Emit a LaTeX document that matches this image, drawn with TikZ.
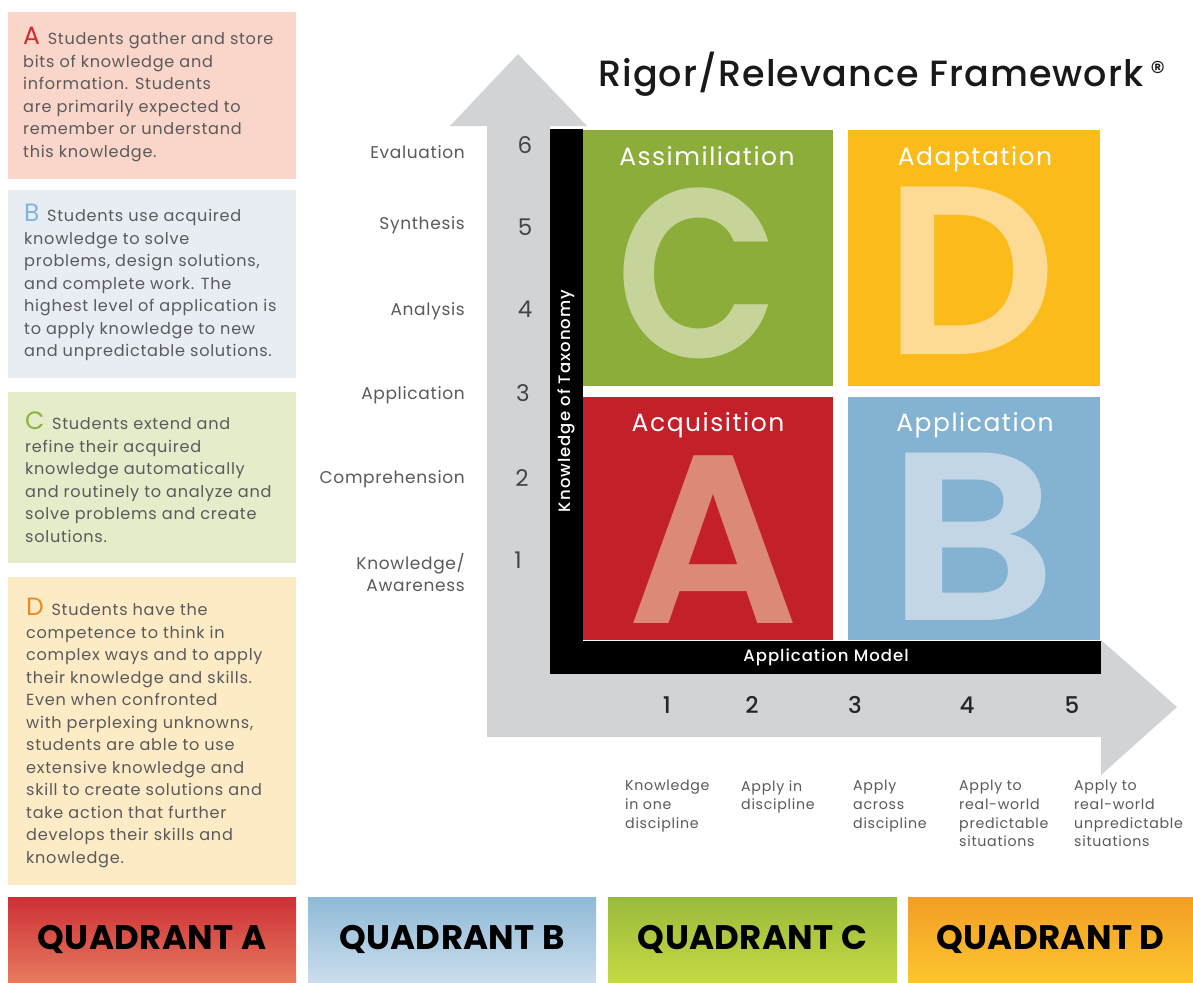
\documentclass[tikz,border=0pt]{standalone}
\usepackage{fontspec}
\setmainfont{Poppins}
\IfFontExistsTF{Poppins Medium}{\newfontfamily\popmed{Poppins Medium}}{\newfontfamily\popmed{Poppins}}
\IfFontExistsTF{Poppins SemiBold}{\newfontfamily\popsemi{Poppins SemiBold}}{\newfontfamily\popsemi{Poppins}[FakeBold=1.5]}
\definecolor{boxA}{HTML}{FAD5C9}
\definecolor{boxB}{HTML}{E7EDF2}
\definecolor{boxC}{HTML}{E4ECCA}
\definecolor{boxD}{HTML}{FDEBC6}
\definecolor{letA}{HTML}{D42A30}
\definecolor{letB}{HTML}{7FB6D9}
\definecolor{letC}{HTML}{8CB43C}
\definecolor{letD}{HTML}{EF8A22}
\definecolor{txtgray}{HTML}{5A5A5C}
\definecolor{numgray}{HTML}{444446}
\definecolor{arrowgray}{HTML}{D1D3D4}
\definecolor{qgreen}{HTML}{8CAD3A}
\definecolor{qyellow}{HTML}{FBBC1B}
\definecolor{qred}{HTML}{C4202A}
\definecolor{qblue}{HTML}{84B2D3}
\definecolor{lgreen}{HTML}{C6D49A}
\definecolor{lyellow}{HTML}{FDDB94}
\definecolor{lred}{HTML}{DC8A78}
\definecolor{lblue}{HTML}{C2D6E6}
\definecolor{barAtop}{HTML}{CC2F35}
\definecolor{barAbot}{HTML}{E87A5F}
\definecolor{barBtop}{HTML}{8FBAD7}
\definecolor{barBbot}{HTML}{CADDEC}
\definecolor{barCtop}{HTML}{9ABA3C}
\definecolor{barCbot}{HTML}{C4DA42}
\definecolor{barDtop}{HTML}{F29E26}
\definecolor{barDbot}{HTML}{FDC52D}
\begin{document}
\begin{tikzpicture}[x=1pt,y=-1pt,
  panel/.style={anchor=north west, inner sep=0, outer sep=0, draw=none},
  desc/.style={anchor=north west, inner sep=0, align=left, text=txtgray, font=\fontsize{16.1}{22.5}\selectfont\addfontfeature{LetterSpace=4.5}},
  axlab/.style={anchor=base east, inner sep=0, text=txtgray, font=\fontsize{17}{22}\selectfont\addfontfeature{LetterSpace=4}},
  num/.style={anchor=base, inner sep=0, text=numgray, font=\fontsize{23}{23}\selectfont},
  hnum/.style={anchor=base, inner sep=0, text=black!85, font=\popmed\fontsize{23}{23}\selectfont},
  qtitle/.style={anchor=base, inner sep=0, text=white, font=\fontsize{25}{25}\selectfont\addfontfeature{LetterSpace=6}},
  bigletter/.style={anchor=base, inner sep=0, text height=170pt, text depth=0pt, font=\popsemi\fontsize{240}{240}\selectfont},
  applab/.style={anchor=north west, inner sep=0, align=left, text=txtgray, font=\fontsize{14.2}{18.7}\selectfont\addfontfeature{LetterSpace=5}},
  barlab/.style={text=white, inner sep=0, font=\popmed\fontsize{16.5}{17}\selectfont\addfontfeature{LetterSpace=6}},
  qbar/.style={anchor=north west, inner sep=0, outer sep=0, minimum width=288, minimum height=85},
  qbartext/.style={font=\fontsize{34}{34}\selectfont\bfseries\addfontfeature{LetterSpace=1}, text=black}
]
\useasboundingbox (0,0) rectangle (1193,982);
\fill[white] (0,0) rectangle (1193,982);

% ---------- left description panels ----------
\node[panel, fill=boxA, minimum width=288, minimum height=167] (pA) at (8,12) {};
\node[panel, fill=boxB, minimum width=288, minimum height=188] (pB) at (8,190) {};
\node[panel, fill=boxC, minimum width=288, minimum height=171] (pC) at (8,392) {};
\node[panel, fill=boxD, minimum width=288, minimum height=308] (pD) at (8,577) {};

\node[desc] (tA) at (23,27) {{\fontsize{25}{22.5}\selectfont\color{letA}A}\, Students gather and store\\bits of knowledge and\\information. Students\\are primarily expected to\\remember or understand\\this knowledge.};
\node[desc] (tB) at (24,204) {{\fontsize{25}{22.5}\selectfont\color{letB}B}\, Students use acquired\\knowledge to solve\\problems, design solutions,\\and complete work. The\\highest level of application is\\to apply knowledge to new\\and unpredictable solutions.};
\node[desc] (tC) at (25,412) {{\fontsize{25}{22.5}\selectfont\color{letC}C}\, Students extend and\\refine their acquired\\knowledge automatically\\and routinely to analyze and\\solve problems and create\\solutions.};
\node[desc] (tD) at (26,598) {{\fontsize{25}{22.5}\selectfont\color{letD}D}\, Students have the\\competence to think in\\complex ways and to apply\\their knowledge and skills.\\Even when confronted\\with perplexing unknowns,\\students are able to use\\extensive knowledge and\\skill to create solutions and\\take action that further\\develops their skills and\\knowledge.};

% ---------- gray L arrow ----------
\fill[arrowgray] (487,737) -- (1101,737) -- (1101,775) -- (1177,707) -- (1101,640) -- (1101,674)
  -- (550,674) -- (550,126) -- (587,126) -- (518,54) -- (450,126) -- (487,126) -- cycle;

% ---------- quadrants ----------
\node[panel, fill=qgreen, minimum width=250, minimum height=256] (qC) at (583,130) {};
\node[panel, fill=qyellow, minimum width=252, minimum height=256] (qD) at (848,130) {};
\node[panel, fill=qred, minimum width=250, minimum height=243] (qA) at (583,397) {};
\node[panel, fill=qblue, minimum width=252, minimum height=243] (qB) at (848,397) {};

\node[bigletter, text=lgreen, xscale=0.885] (bC) at (698,357) {C};
\node[bigletter, text=lyellow] (bD) at (971,354) {D};
\node[bigletter, text=lred] (bA) at (713,623) {A};
\node[bigletter, text=lblue, xscale=1.1] (bB) at (972,620) {B};

\node[qtitle] (tqC) at (707,165) {Assimiliation};
\node[qtitle] (tqD) at (975,165) {Adaptation};
\node[qtitle] (tqA) at (708,431) {Acquisition};
\node[qtitle] (tqB) at (975,431) {Application};

% ---------- black axis bars ----------
\node[panel, fill=black, minimum width=33, minimum height=545] (vbar) at (550,129) {};
\node[panel, fill=black, minimum width=551, minimum height=33] (hbar) at (550,641) {};
\node[barlab, rotate=90] (ktax) at (566,401) {Knowledge of Taxonomy};
\node[barlab] (amod) at (826,657) {Application Model};

% ---------- title ----------
\node[anchor=base west, inner sep=0, text=black!90, font=\popmed\fontsize{36.5}{36.5}\selectfont\addfontfeature{LetterSpace=3}] (title) at (598,86) {Rigor/Relevance Framework};
\node[anchor=center, inner sep=0, text=black!90, font=\fontsize{30}{30}\selectfont] (reg) at (1158,72) {®};

% ---------- vertical axis labels ----------
\node[axlab] (l6) at (465,158) {Evaluation};
\node[axlab] (l5) at (465,229) {Synthesis};
\node[axlab] (l4) at (465,315) {Analysis};
\node[axlab] (l3) at (465,399) {Application};
\node[axlab] (l2) at (465,483) {Comprehension};
\node[axlab] (l1a) at (465,569) {Knowledge/};
\node[axlab] (l1b) at (465,591) {Awareness};

\node[num] (n6) at (525,153) {6};
\node[num] (n5) at (525,235) {5};
\node[num] (n4) at (525,317) {4};
\node[num] (n3) at (523,401) {3};
\node[num] (n2) at (522,486) {2};
\node[num] (n1) at (518,568) {1};

% ---------- horizontal axis ----------
\node[hnum] (h1) at (667,713) {1};
\node[hnum] (h2) at (752,713) {2};
\node[hnum] (h3) at (855,713) {3};
\node[hnum] (h4) at (967,713) {4};
\node[hnum] (h5) at (1072,713) {5};

\node[applab] (a1) at (625,780) {Knowledge\\in one\\discipline};
\node[applab] (a2) at (741,780) {Apply in\\discipline};
\node[applab] (a3) at (853,780) {Apply\\across\\discipline};
\node[applab] (a4) at (959,780) {Apply to\\real-world\\predictable\\situations};
\node[applab] (a5) at (1074,780) {Apply to\\real-world\\unpredictable\\situations};

% ---------- quadrant bars ----------
\node[qbar, top color=barAtop, bottom color=barAbot] (barA) at (8,897) {};
\node[qbar, top color=barBtop, bottom color=barBbot] (barB) at (308,897) {};
\node[qbar, top color=barCtop, bottom color=barCbot, minimum width=289] (barC) at (608,897) {};
\node[qbar, top color=barDtop, bottom color=barDbot, minimum width=285] (barD) at (908,897) {};
\node[qbartext] (qtA) at (barA.center) {QUADRANT A};
\node[qbartext] (qtB) at (barB.center) {QUADRANT B};
\node[qbartext] (qtC) at (barC.center) {QUADRANT C};
\node[qbartext] (qtD) at (barD.center) {QUADRANT D};
\end{tikzpicture}
\end{document}
